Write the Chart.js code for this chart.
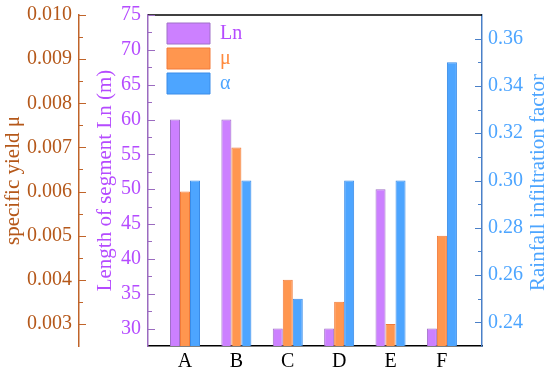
<!DOCTYPE html>
<html>
<head>
<meta charset="utf-8">
<script src="https://cdn.jsdelivr.net/npm/chart.js@4.4.0/dist/chart.umd.min.js"></script>
<style>
  html, body { margin: 0; padding: 0; background: #fff; }
  #wrap { width: 550px; height: 372px; }
</style>
</head>
<body>
<div id="wrap"><canvas id="myChart" width="550" height="372"></canvas></div>
<script>
// sections
const cats = ['A', 'B', 'C', 'D', 'E', 'F'];
// length of segment Ln (m)
const lnVals = [60, 60, 30, 30, 50, 30];
// specific yield mu
const muVals = [0.006, 0.007, 0.004, 0.0035, 0.003, 0.005];
// rainfall infiltration factor alpha
const alphaVals = [0.30, 0.30, 0.25, 0.30, 0.30, 0.35];

// tick labels of the three value axes
const lnTicks = [30, 35, 40, 45, 50, 55, 60, 65, 70, 75];
const muTicks = [0.003, 0.004, 0.005, 0.006, 0.007, 0.008, 0.009, 0.010];
const alphaTicks = [0.24, 0.26, 0.28, 0.30, 0.32, 0.34, 0.36];

const FONT = 'Liberation Serif';
const lnColor = '#B54BFF', muColor = '#B5581A', alphaColor = '#4DA5FF';
const legendColors = [lnColor, '#FF8A3D', alphaColor];

const toPoints = vals => vals.map((v, i) => ({ x: i, y: v }));

// y axes: fixed width, no extra top/bottom padding
const fitY = w => s => {
  s.width = w;
  s.paddingTop = 0;
  s.paddingBottom = 0;
};

// inward tick marks + top frame line
const tickPlugin = {
  id: 'innerTicks',
  afterLayout(chart) {
    const area = chart.chartArea;
    chart.legend.left = area.left + 15;
    chart.legend.top = area.top + 4;
  },
  afterDraw(chart) {
    const ctx = chart.ctx;
    const area = chart.chartArea;
    ctx.save();
    ctx.strokeStyle = '#000';
    ctx.lineWidth = 1.5;
    ctx.beginPath();
    ctx.moveTo(area.left, area.top);
    ctx.lineTo(area.right, area.top);
    ctx.stroke();

    const defs = [
      { id: 'yLn', ticks: lnTicks, color: '#9B6BC0' },
      { id: 'yMu', ticks: muTicks, color: '#C0642A' },
      { id: 'yA', ticks: alphaTicks, color: '#4A80C8' }
    ];
    defs.forEach(d => {
      const s = chart.scales[d.id];
      const left = s.position === 'left';
      const x0 = left ? s.right : s.left;
      const dir = left ? 1 : -1;
      const step = d.ticks[1] - d.ticks[0];
      ctx.strokeStyle = d.color;
      ctx.lineWidth = 1.2;
      ctx.beginPath();
      d.ticks.forEach(v => {
        const y = Math.round(s.getPixelForValue(v)) + 0.5;
        ctx.moveTo(x0, y);
        ctx.lineTo(x0 + dir * 7, y);
      });
      for (let v = d.ticks[0] - step / 2; v < s.max; v += step) {
        if (v <= s.min + 1e-9 || v >= s.max - 1e-9) continue;
        const y = Math.round(s.getPixelForValue(v)) + 0.5;
        ctx.moveTo(x0, y);
        ctx.lineTo(x0 + dir * 4, y);
      }
      ctx.stroke();
    });

    // right axis title, reads bottom to top
    const sA = chart.scales.yA;
    ctx.fillStyle = alphaColor;
    ctx.font = '21px "' + FONT + '"';
    ctx.textAlign = 'center';
    ctx.textBaseline = 'middle';
    ctx.translate(538, (sA.top + sA.bottom) / 2 + 2);
    ctx.rotate(-Math.PI / 2);
    ctx.fillText('Rainfall infiltration factor', 0, 0);
    ctx.restore();
  }
};

const ctx = document.getElementById('myChart').getContext('2d');
const myChart = new Chart(ctx, {
  type: 'bar',
  data: {
    datasets: [
      {
        label: 'Ln',
        data: toPoints(lnVals),
        yAxisID: 'yLn',
        backgroundColor: '#CC80FF',
        borderColor: '#A070C8',
        borderWidth: 1
      },
      {
        label: 'μ',
        data: toPoints(muVals),
        yAxisID: 'yMu',
        backgroundColor: '#FF964F',
        borderColor: '#F27B3A',
        borderWidth: 1
      },
      {
        label: 'α',
        data: toPoints(alphaVals),
        yAxisID: 'yA',
        backgroundColor: '#4DA5FF',
        borderColor: '#3A8CE8',
        borderWidth: 1
      }
    ]
  },
  options: {
    responsive: false,
    animation: false,
    events: [],
    categoryPercentage: 0.584,
    barPercentage: 1,
    layout: { padding: { top: 15, right: 0, bottom: 0, left: 0 } },
    plugins: {
      tooltip: { enabled: false },
      legend: {
        position: 'chartArea',
        align: 'start',
        labels: {
          boxWidth: 43,
          boxHeight: 21,
          padding: 4,
          font: { family: FONT, size: 20 },
          generateLabels: chart =>
            Chart.defaults.plugins.legend.labels.generateLabels(chart)
              .map((it, i) => ({ ...it, fontColor: legendColors[i] }))
        }
      }
    },
    scales: {
      x: {
        type: 'linear',
        position: 'bottom',
        min: -0.72,
        max: 5.78,
        offset: false,
        grid: { display: false, drawTicks: false, offset: false },
        border: { display: true, color: '#000', width: 1.5 },
        ticks: {
          color: '#000',
          padding: 4,
          font: { family: FONT, size: 20 },
          callback: v => cats[v] ?? ''
        },
        afterBuildTicks: s => { s.ticks = cats.map((c, i) => ({ value: i })); },
        afterFit: s => { s.height = 26; }
      },
      yLn: {
        type: 'linear',
        position: 'left',
        weight: 0,
        min: 27.5,
        max: 75,
        grid: { display: false, drawTicks: false },
        border: { display: true, color: '#9B6BC0', width: 1.5 },
        ticks: {
          color: lnColor,
          padding: 7,
          font: { family: FONT, size: 20 }
        },
        afterBuildTicks: s => { s.ticks = lnTicks.map(v => ({ value: v })); },
        title: {
          display: true,
          text: 'Length of segment Ln (m)',
          color: lnColor,
          font: { family: FONT, size: 21 },
          padding: { top: 14, bottom: 0 }
        },
        afterFit: fitY(69)
      },
      yMu: {
        type: 'linear',
        position: 'left',
        weight: 1,
        min: 0.0025,
        max: 0.010,
        grid: { display: false, drawTicks: false },
        border: { display: true, color: '#C0642A', width: 1.5 },
        ticks: {
          color: muColor,
          padding: 7,
          font: { family: FONT, size: 20 },
          callback: v => v.toFixed(3)
        },
        afterBuildTicks: s => { s.ticks = muTicks.map(v => ({ value: v })); },
        title: {
          display: true,
          text: 'specific yield μ',
          color: muColor,
          font: { family: FONT, size: 21 },
          padding: { top: 1, bottom: 0 }
        },
        afterFit: fitY(79)
      },
      yA: {
        type: 'linear',
        position: 'right',
        min: 0.23,
        max: 0.37,
        grid: { display: false, drawTicks: false },
        border: { display: true, color: '#4A80C8', width: 1.5 },
        ticks: {
          color: alphaColor,
          padding: 6,
          font: { family: FONT, size: 20 },
          callback: v => v.toFixed(2)
        },
        afterBuildTicks: s => { s.ticks = alphaTicks.map(v => ({ value: v })); },
        afterFit: fitY(68)
      }
    }
  },
  plugins: [tickPlugin]
});
</script>
</body>
</html>
